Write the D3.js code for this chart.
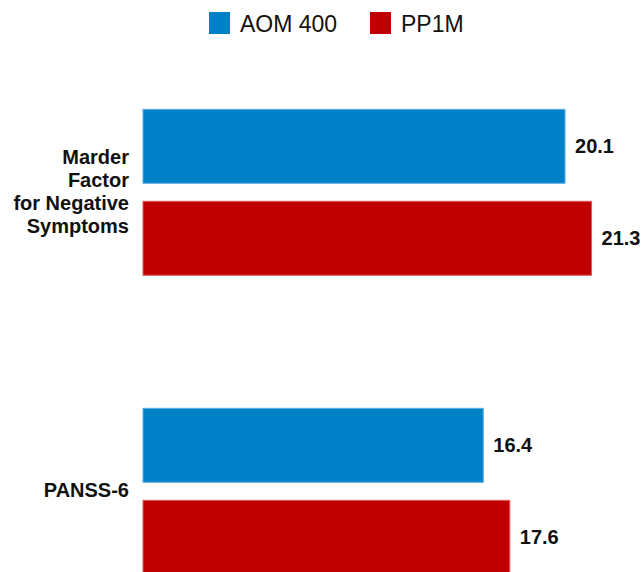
<!DOCTYPE html>
<html>
<head>
<meta charset="utf-8">
<script src="https://cdn.jsdelivr.net/npm/d3@7"></script>
<style>
  body { margin: 0; background: #fff; }
  text { font-family: "Liberation Sans", Arial, sans-serif; }
</style>
</head>
<body>
<svg></svg>
<script>
// data
const categories = ["Marder Factor for Negative Symptoms", "PANSS-6"];
const categoryLines = [["Marder", "Factor", "for Negative", "Symptoms"], ["PANSS-6"]];
const series = ["AOM 400", "PP1M"];
const aomValues = [20.1, 16.4];
const pp1mValues = [21.3, 17.6];

const colors = { "AOM 400": "#0080c6", "PP1M": "#c00000" };
const strokes = { "AOM 400": "#5aaee0", "PP1M": "#e05a5a" };

const width = 643, height = 572;
const svg = d3.select("svg").attr("width", width).attr("height", height);

const rows = categories.map((c, i) => ({
  cat: c,
  lines: categoryLines[i],
  vals: [{ s: "AOM 400", v: aomValues[i] }, { s: "PP1M", v: pp1mValues[i] }]
}));

// x scale starts at 1 (bars begin there)
const x = d3.scaleLinear().domain([1, 22]).range([143, 607]);

// outer band for categories, inner band for series
const y0 = d3.scaleBand()
  .domain(categories)
  .range([109.3, 574.3])
  .paddingInner(0.445)
  .paddingOuter(0);

const y1 = d3.scaleBand()
  .domain(series)
  .range([0, y0.bandwidth()])
  .paddingInner(0.196)
  .paddingOuter(0);

const groups = svg.selectAll(".grp")
  .data(rows)
  .enter().append("g")
  .attr("class", "grp")
  .attr("transform", d => `translate(0, ${y0(d.cat)})`);

// bars
groups.selectAll("rect")
  .data(d => d.vals)
  .enter().append("rect")
  .attr("x", x(1))
  .attr("y", d => y1(d.s))
  .attr("width", d => x(d.v) - x(1))
  .attr("height", y1.bandwidth())
  .attr("fill", d => colors[d.s])
  .attr("stroke", d => strokes[d.s])
  .attr("stroke-width", 1);

// value labels
groups.selectAll(".val")
  .data(d => d.vals)
  .enter().append("text")
  .attr("class", "val")
  .attr("x", d => x(d.v) + 10)
  .attr("y", d => y1(d.s) + y1.bandwidth() / 2)
  .attr("dy", "0.35em")
  .attr("font-size", "20px")
  .attr("font-weight", "bold")
  .attr("fill", "#111")
  .text(d => d.v.toFixed(1));

// category labels, multi-line, right aligned
const lineH = 23;
groups.append("text")
  .attr("text-anchor", "end")
  .attr("font-size", "20px")
  .attr("font-weight", "bold")
  .attr("fill", "#111")
  .each(function(d) {
    const t = d3.select(this);
    const mid = y0.bandwidth() / 2;
    const start = mid - (d.lines.length - 1) * lineH / 2;
    d.lines.forEach((ln, i) => {
      t.append("tspan")
        .attr("x", 129)
        .attr("y", start + i * lineH - 1)
        .attr("dy", "0.35em")
        .text(ln);
    });
  });

// legend
const legendX = [209, 370];
const legend = svg.append("g");
series.forEach((s, i) => {
  legend.append("rect")
    .attr("x", legendX[i])
    .attr("y", 12)
    .attr("width", 21)
    .attr("height", 22)
    .attr("fill", colors[s]);
  legend.append("text")
    .attr("x", legendX[i] + 31)
    .attr("y", 31.5)
    .attr("font-size", "23px")
    .attr("fill", "#111")
    .text(s);
});
</script>
</body>
</html>
